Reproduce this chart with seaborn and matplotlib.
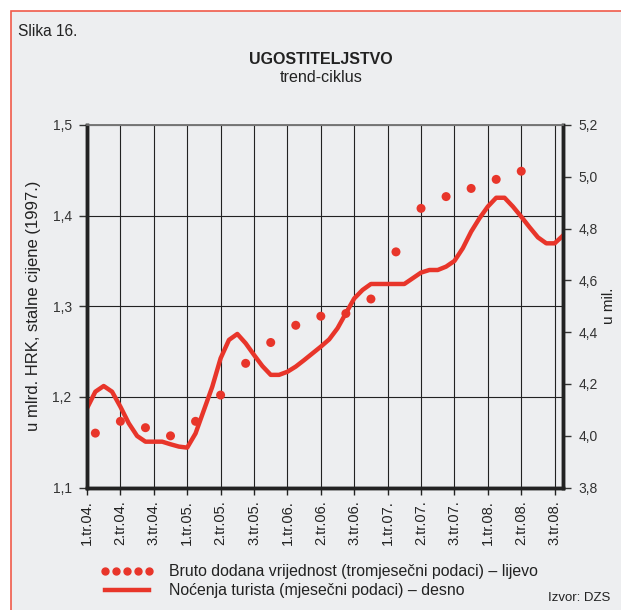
import numpy as np
import pandas as pd
import matplotlib
matplotlib.use("Agg")
import matplotlib.pyplot as plt
import seaborn as sns
from matplotlib.lines import Line2D
from matplotlib.patches import Rectangle
from matplotlib.ticker import FuncFormatter

# x tick labels (one tick every 4 months)
quarter_labels = ["1.tr.04.", "2.tr.04.", "3.tr.04.", "1.tr.05.", "2.tr.05.", "3.tr.05.",
                  "1.tr.06.", "2.tr.06.", "3.tr.06.", "1.tr.07.", "2.tr.07.", "3.tr.07.",
                  "1.tr.08.", "2.tr.08.", "3.tr.08."]

# Bruto dodana vrijednost, quarterly (left axis)
gva = [1.160, 1.173, 1.166, 1.157, 1.173, 1.202, 1.237, 1.260, 1.279, 1.289, 1.292,
       1.308, 1.360, 1.408, 1.421, 1.430, 1.440, 1.449]

# Nocenja turista, monthly (right axis)
nights = [4.106, 4.170, 4.192, 4.170, 4.112, 4.048, 3.999, 3.977, 3.977, 3.977,
          3.967, 3.958, 3.954, 4.009, 4.099, 4.189, 4.299, 4.370, 4.393, 4.357,
          4.312, 4.269, 4.235, 4.235, 4.247, 4.267, 4.292, 4.318, 4.344, 4.372,
          4.415, 4.473, 4.530, 4.563, 4.586, 4.586, 4.586, 4.586, 4.586, 4.608,
          4.630, 4.640, 4.640, 4.653, 4.675, 4.724, 4.788, 4.840, 4.885, 4.919,
          4.919, 4.885, 4.846, 4.805, 4.766, 4.743, 4.743, 4.773]

red = "#e8352a"
bg = "#edeef0"
ink = "#222222"

plt.rcParams["font.family"] = ["Liberation Sans", "DejaVu Sans"]

monthly = pd.DataFrame({"month": np.arange(len(nights)), "value": nights})
quarterly = pd.DataFrame({"month": np.arange(len(gva)) * 3 + 1, "value": gva})

fig = plt.figure(figsize=(6.21, 6.10), dpi=100)
fig.patch.set_facecolor("white")
# grey panel with red frame, running off the right and bottom edges
fig.patches.append(Rectangle((11 / 621, -0.1), 1.2, 1.1 - 11 / 610,
                             transform=fig.transFigure, facecolor=bg, edgecolor="#f05a4a",
                             linewidth=1.2, zorder=-10))

ax = fig.add_axes([87 / 621, 122.5 / 610, (563 - 87) / 621, (487.5 - 125) / 610])
ax.set_facecolor(bg)
ax2 = ax.twinx()

sns.scatterplot(data=quarterly, x="month", y="value", ax=ax, color=red, s=42,
                edgecolor="none", zorder=5)
sns.lineplot(data=monthly, x="month", y="value", ax=ax2, color=red, linewidth=3.2)

ax.set_xlim(0, 57)
ax.set_ylim(1.1, 1.5)
ax2.set_ylim(3.8, 5.2)
ax.set_xticks(np.arange(len(quarter_labels)) * 4)
ax.set_xticklabels(quarter_labels, rotation=90, fontsize=10.5, color=ink)
ax.set_yticks([1.1, 1.2, 1.3, 1.4, 1.5])
ax2.set_yticks([3.8, 4.0, 4.2, 4.4, 4.6, 4.8, 5.0, 5.2])
comma = FuncFormatter(lambda v, p: f"{v:.1f}".replace(".", ","))
ax.yaxis.set_major_formatter(comma)
ax2.yaxis.set_major_formatter(comma)
ax.tick_params(axis="y", labelsize=10, colors="#333333", length=6, width=1, pad=5)
ax2.tick_params(axis="y", labelsize=10, colors="#333333", length=6, width=1, pad=5)
ax.tick_params(axis="x", length=5, width=1, pad=4, colors=ink)

ax.grid(True, color=ink, linewidth=0.8)
ax.set_axisbelow(True)
ax.set_xlabel("")
ax.set_ylabel("u mlrd. HRK, stalne cijene (1997.)", fontsize=12, color=ink, labelpad=8)
ax2.set_xlabel("")
ax2.set_ylabel("u mil.", fontsize=11, color=ink, labelpad=3)

for a in (ax, ax2):
    for side in ("left", "right", "bottom"):
        a.spines[side].set_linewidth(2.5)
        a.spines[side].set_color(ink)
    a.spines["top"].set_linewidth(1.2)
    a.spines["top"].set_color("#777777")

fig.text(18 / 621, 1 - 31 / 610, "Slika 16.", fontsize=11.2, color=ink, va="center")
fig.text(321 / 621, 1 - 60 / 610, "UGOSTITELJSTVO", fontsize=11.5, fontweight="bold",
         color=ink, ha="center", va="center")
fig.text(321 / 621, 1 - 77 / 610, "trend-ciklus", fontsize=11.6, color=ink,
         ha="center", va="center")

handles = [Line2D([], [], color=red, marker="o", linestyle="None", markersize=5),
           Line2D([], [], color=red, linewidth=3.2)]
fig.legend(handles, ["Bruto dodana vrijednost (tromjesečni podaci) – lijevo",
                     "Noćenja turista (mjesečni podaci) – desno"],
           loc="upper left", bbox_to_anchor=(86 / 621, 1 - 550 / 610), frameon=False,
           numpoints=5, handlelength=3.35, handletextpad=1.0, labelspacing=0.25,
           fontsize=11.4, labelcolor=ink)
fig.text(610 / 621, 1 - 598 / 610, "Izvor: DZS", fontsize=9.5, color=ink,
         ha="right", va="center")

fig.savefig("out.png", dpi=100, facecolor="white")
